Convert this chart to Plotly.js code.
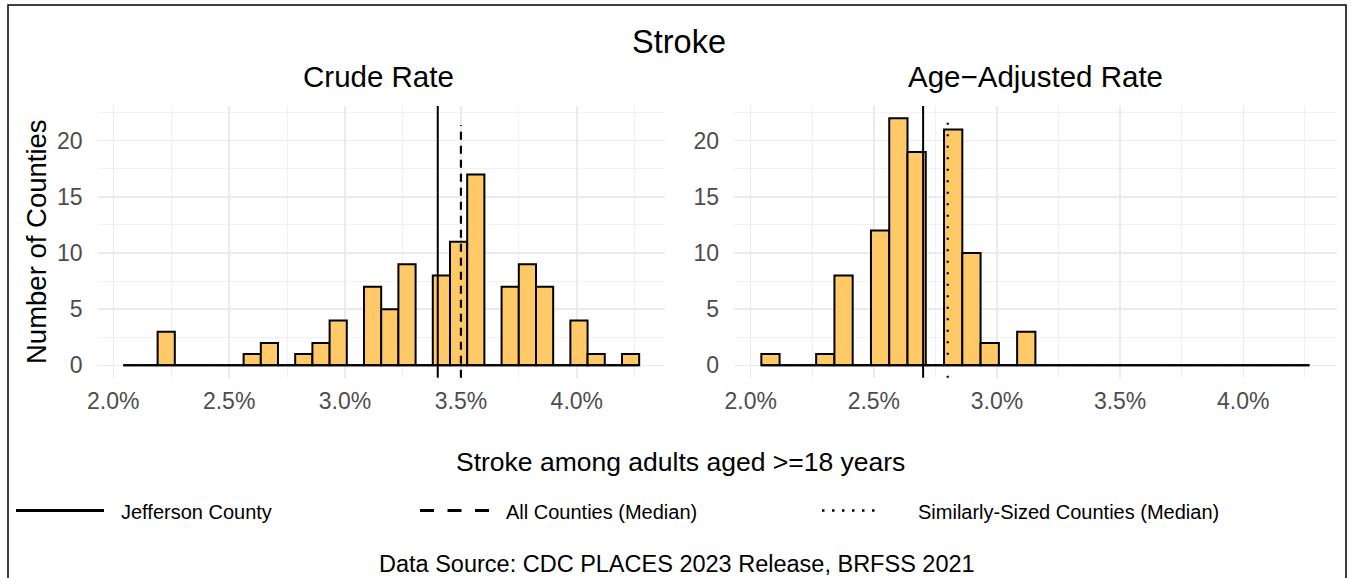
<!DOCTYPE html>
<html>
<head>
<meta charset="utf-8">
<script src="https://cdn.plot.ly/plotly-3.0.1.min.js"></script>
<style>html,body{margin:0;padding:0;background:#fff;}#chart{width:1353px;height:578px;}</style>
</head>
<body>
<div id="chart"></div>
<script>
// ---- data ----
const binStart = 2.043;      // left edge of first histogram bin (%)
const binWidth = 0.0742;     // histogram bin width (%)
const crudeCounts  = [0,0,3,0,0,0,0,1,2,0,1,2,4,0,7,5,9,0,8,11,17,0,7,9,7,0,4,1,0,1];
const ageAdjCounts = [1,0,0,1,8,0,12,22,19,0,21,10,2,0,3,0,0,0,0,0,0,0,0,0,0,0,0,0,0,0];
const crudeJefferson = 3.4;
const crudeAllMedian = 3.5;
const adjJefferson = 2.7;
const adjSimilarMedian = 2.8;
const panelTitles = ["Crude Rate", "Age\u2212Adjusted Rate"];
const legendLabels = ["Jefferson County", "All Counties (Median)", "Similarly-Sized Counties (Median)"];
const mainTitle = "Stroke";
const xTitle = "Stroke among adults aged >=18 years";
const yTitle = "Number of Counties";
const caption = "Data Source: CDC PLACES 2023 Release, BRFSS 2021";

// ---- derived ----
const centers = crudeCounts.map((_, i) => binStart + (i + 0.5) * binWidth);
const binEnd = binStart + crudeCounts.length * binWidth;

const W = 1353, H = 578;
const px = v => v / W;
const py = v => 1 - v / H;

const FONT = "Liberation Sans, Arial, Helvetica, sans-serif";
const FILL = "#FEC966";

function barTrace(counts, xa, ya) {
  return {
    type: "bar", x: centers, y: counts, width: binWidth,
    xaxis: xa, yaxis: ya,
    marker: { color: FILL, line: { color: "#000", width: 2 } },
    hoverinfo: "x+y", showlegend: false
  };
}
function baseTrace(xa, ya) {
  return {
    type: "scatter", mode: "lines", x: [binStart, binEnd], y: [0, 0],
    xaxis: xa, yaxis: ya, line: { color: "#000", width: 2 },
    hoverinfo: "skip", showlegend: false
  };
}

const data = [
  baseTrace("x", "y"), barTrace(crudeCounts, "x", "y"),
  baseTrace("x2", "y2"), barTrace(ageAdjCounts, "x2", "y2")
];

const yDom = [py(377.7), py(105.9)];
const xr = [1.932, 4.380];
const yr = [-1.1, 23.1];
const grid = "#EBEBEB";
const tickFont = { family: FONT, size: 23, color: "#4D4D4D" };

function xAxis(domain, anchor) {
  return {
    domain: domain, anchor: anchor, range: xr, tick0: 2, dtick: 0.5,
    tickformat: ".1f", ticksuffix: "%", showgrid: true, gridcolor: grid, gridwidth: 1.4,
    minor: { tick0: 2.25, dtick: 0.5, showgrid: true, gridcolor: grid, gridwidth: 0.7 },
    zeroline: false, showline: false, ticks: "", ticklabelstandoff: 7,
    tickfont: tickFont, fixedrange: true
  };
}
function yAxis(anchor) {
  return {
    domain: yDom, anchor: anchor, range: yr, tick0: 0, dtick: 5,
    showgrid: true, gridcolor: grid, gridwidth: 1.4,
    minor: { tick0: 2.5, dtick: 5, showgrid: true, gridcolor: grid, gridwidth: 0.7 },
    zeroline: false, showline: false, ticks: "", ticklabelstandoff: 14,
    tickfont: tickFont, fixedrange: true
  };
}

const shapes = [
  { type: "line", xref: "x", yref: "y domain", x0: crudeJefferson, x1: crudeJefferson, y0: 0, y1: 1,
    line: { color: "#000", width: 2 } },
  { type: "line", xref: "x", yref: "y domain", x0: crudeAllMedian, x1: crudeAllMedian, y0: 0, y1: 0.93,
    line: { color: "#000", width: 2.2, dash: "8px,6px" } },
  { type: "line", xref: "x2", yref: "y2 domain", x0: adjJefferson, x1: adjJefferson, y0: 0, y1: 1,
    line: { color: "#000", width: 2 } },
  { type: "line", xref: "x2", yref: "y2 domain", x0: adjSimilarMedian, x1: adjSimilarMedian, y0: 0, y1: 0.96,
    line: { color: "#000", width: 2.2, dash: "2px,9.5px" } },
  // figure border
  { type: "rect", xref: "paper", yref: "paper", x0: px(8), x1: px(1346), y0: -0.05, y1: py(5),
    line: { color: "#000", width: 1.5 }, fillcolor: "rgba(0,0,0,0)" },
  // legend keys
  { type: "line", xref: "paper", yref: "paper", x0: px(16), x1: px(104), y0: py(510.5), y1: py(510.5),
    line: { color: "#000", width: 3 } },
  { type: "line", xref: "paper", yref: "paper", x0: px(420), x1: px(489), y0: py(510.5), y1: py(510.5),
    line: { color: "#000", width: 3, dash: "14px,13.5px" } },
  { type: "line", xref: "paper", yref: "paper", x0: px(822), x1: px(875), y0: py(510.5), y1: py(510.5),
    line: { color: "#000", width: 2.5, dash: "2.5px,7.5px" } }
];

const ann = (text, x, y, size, opts) => Object.assign({
  text: text, xref: "paper", yref: "paper", x: px(x), y: py(y),
  showarrow: false, font: { family: FONT, size: size, color: "#000" },
  xanchor: "center", yanchor: "middle"
}, opts || {});

const annotations = [
  ann(panelTitles[0], 378.7, 77, 29.5),
  ann(panelTitles[1], 1035, 77, 29.5),
  ann(yTitle, 36, 242, 27.5, { textangle: -90 }),
  ann(xTitle, 680, 462, 26.5),
  ann(legendLabels[0], 119, 511.5, 20, { xanchor: "left" }),
  ann(legendLabels[1], 504, 511.5, 20, { xanchor: "left" }),
  ann(legendLabels[2], 916, 511.5, 20, { xanchor: "left" }),
  ann(caption, 677, 563.5, 23.5)
];

const layout = {
  width: W, height: H,
  margin: { l: 0, r: 0, t: 0, b: 0, pad: 0 },
  paper_bgcolor: "#fff", plot_bgcolor: "rgba(0,0,0,0)",
  font: { family: FONT },
  title: { text: mainTitle, x: px(679), xanchor: "center", y: py(42), yanchor: "middle",
           font: { family: FONT, size: 32.5, color: "#000" } },
  bargap: 0, barmode: "overlay", showlegend: false,
  xaxis: xAxis([px(97.5), px(664.9)], "y"),
  yaxis: yAxis("x"),
  xaxis2: xAxis([px(734), px(1336.8)], "y2"),
  yaxis2: yAxis("x2"),
  shapes: shapes, annotations: annotations
};

Plotly.newPlot("chart", data, layout, { displayModeBar: false, staticPlot: true });
</script>
</body>
</html>
